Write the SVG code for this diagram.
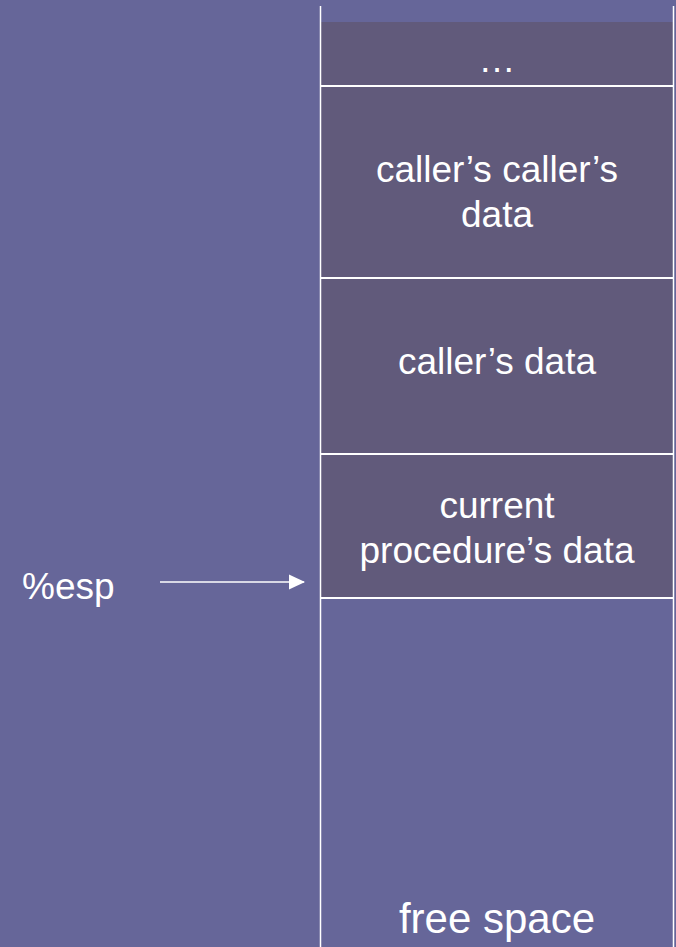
<svg xmlns="http://www.w3.org/2000/svg" width="676" height="947" viewBox="0 0 676 947">
<style>
.t{font-family:"Liberation Sans",Arial,sans-serif;fill:#fff;text-anchor:middle;font-size:37px}
.l{stroke:#fff;stroke-width:2;fill:none}
.box{fill:#615A7B}
</style>
<defs>
<marker id="ah" markerWidth="16" markerHeight="16" refX="15" refY="8" orient="auto" markerUnits="userSpaceOnUse">
<path d="M0,0.5 L16,8 L0,15.5 z" fill="#fff"/>
</marker>
</defs>
<rect width="676" height="947" fill="#666699"/>
<g id="frame-dots"><rect class="box" x="321" y="22" width="352" height="64"/><text class="t" x="497" y="72">…</text></g>
<g id="frame-callers-caller"><rect class="box" x="321" y="86" width="352" height="192"/><text class="t" x="497" y="182">caller’s caller’s</text><text class="t" x="497" y="227">data</text></g>
<g id="frame-caller"><rect class="box" x="321" y="278" width="352" height="176"/><text class="t" x="497" y="374">caller’s data</text></g>
<g id="frame-current"><rect class="box" x="321" y="454" width="352" height="144"/><text class="t" x="497" y="518">current</text><text class="t" x="497" y="563">procedure’s data</text></g>
<g id="free-space"><text class="t" x="497" y="933" style="font-size:42px">free space</text></g>
<g id="esp"><text class="t" x="22" y="599" style="text-anchor:start">%esp</text></g>
<g id="connectors">
<line class="l" x1="320.5" y1="6" x2="320.5" y2="947" style="stroke-width:1.5"/>
<line class="l" x1="673.5" y1="6" x2="673.5" y2="947" style="stroke-width:1.5"/>
<line class="l" x1="321" y1="86" x2="673" y2="86"/>
<line class="l" x1="321" y1="278" x2="673" y2="278"/>
<line class="l" x1="321" y1="454" x2="673" y2="454"/>
<line class="l" x1="321" y1="598" x2="673" y2="598"/>
<line class="l" x1="160" y1="582" x2="304" y2="582" style="stroke-width:1.5" marker-end="url(#ah)"/>
</g>
</svg>
